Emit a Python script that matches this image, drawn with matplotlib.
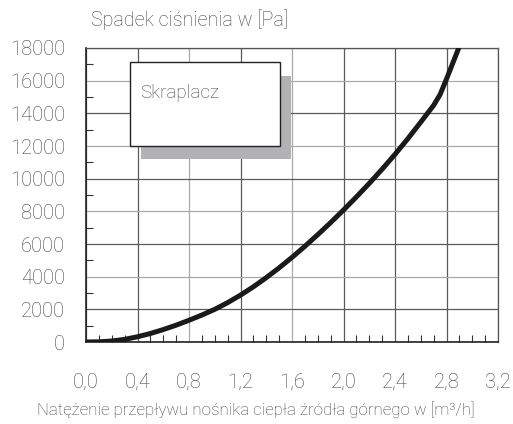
import matplotlib

matplotlib.use("Agg")
import matplotlib.pyplot as plt
from matplotlib.patches import Rectangle
from matplotlib.ticker import MultipleLocator

# flow rate [m3/h] vs pressure drop [Pa] for the condenser
flow = [0.0, 0.1, 0.2, 0.3, 0.4, 0.5, 0.6, 0.7, 0.8, 0.9, 1.0, 1.1, 1.2, 1.3,
        1.4, 1.5, 1.6, 1.7, 1.8, 1.9, 2.0, 2.1, 2.2, 2.3, 2.4, 2.5, 2.6, 2.7,
        2.75, 2.8, 2.85, 2.9]
pressure = [0, 10, 60, 160, 320, 520, 760, 1030, 1330, 1650, 2000, 2410, 2870,
            3380, 3940, 4540, 5180, 5860, 6570, 7310, 8080, 8880, 9710, 10580,
            11490, 12450, 13460, 14490, 15150, 16100, 17100, 18100]

x_ticks = [0.0, 0.4, 0.8, 1.2, 1.6, 2.0, 2.4, 2.8, 3.2]
x_tick_labels = ["0,0", "0,4", "0,8", "1,2", "1,6", "2,0", "2,4", "2,8", "3,2"]
y_ticks = list(range(0, 18001, 2000))

TEXT = "#444444"
DARK_GRID = "#5a5a5a"
LIGHT_GRID = "#aaaaaa"
plt.rcParams["font.family"] = ["Roboto", "DejaVu Sans"]
plt.rcParams["font.weight"] = "light"

fig = plt.figure(figsize=(5.13, 4.24), dpi=100)
ax = fig.add_axes([86 / 513, 82 / 424, 412 / 513, 294 / 424])

ax.set_xlim(0, 3.2)
ax.set_ylim(0, 18000)
ax.set_xticks(x_ticks)
ax.set_xticklabels(x_tick_labels)
ax.set_yticks(y_ticks)
ax.xaxis.set_minor_locator(MultipleLocator(0.1))
ax.yaxis.set_minor_locator(MultipleLocator(1000))
ax.tick_params(which="major", length=0, labelsize=14.5, labelcolor=TEXT)
ax.tick_params(axis="x", which="major", pad=22)
ax.tick_params(axis="y", which="major", pad=15)
ax.tick_params(which="minor", direction="in", length=5, width=0.8, color="#333333")
ax.grid(True, which="major", color=DARK_GRID, linewidth=0.9)

# printed grid alternates between darker and paler lines
light_x = {0.8, 1.6}
light_y = {4000, 8000, 12000, 16000}
for val, line in zip(x_ticks, ax.xaxis.get_gridlines()):
    if val in light_x:
        line.set_color(LIGHT_GRID)
for val, line in zip(y_ticks, ax.yaxis.get_gridlines()):
    if val in light_y:
        line.set_color(LIGHT_GRID)

for side, sp in ax.spines.items():
    sp.set_color("#222222" if side in ("left", "bottom") else "#555555")
    sp.set_linewidth(1.2 if side in ("left", "bottom") else 0.9)

ax.plot(flow, pressure, color="#1a1a1a", linewidth=3.6, solid_joinstyle="round",
        zorder=3)

# legend box with drop shadow
ax.add_patch(Rectangle((141, 265), 150, 83, transform=None, facecolor="#b2b2b4",
                       edgecolor="none", zorder=4))
ax.add_patch(Rectangle((129.5, 278), 150, 84, transform=None, facecolor="white",
                       edgecolor="#222222", linewidth=1.0, zorder=5))
fig.text(140 / 513, 1 - 93 / 424, "Skraplacz", fontsize=13.5, color=TEXT,
         va="center", ha="left", zorder=6)

fig.text(91 / 513, 1 - 20 / 424, "Spadek ciśnienia w [Pa]", fontsize=14.2,
         color=TEXT, va="center", ha="left")
fig.text(256 / 513, 1 - 410 / 424,
         "Natężenie przepływu nośnika ciepła źródła górnego w [m³/h]",
         fontsize=12.2, color=TEXT, va="center", ha="center")

fig.savefig("out.png", dpi=100, facecolor="white")
